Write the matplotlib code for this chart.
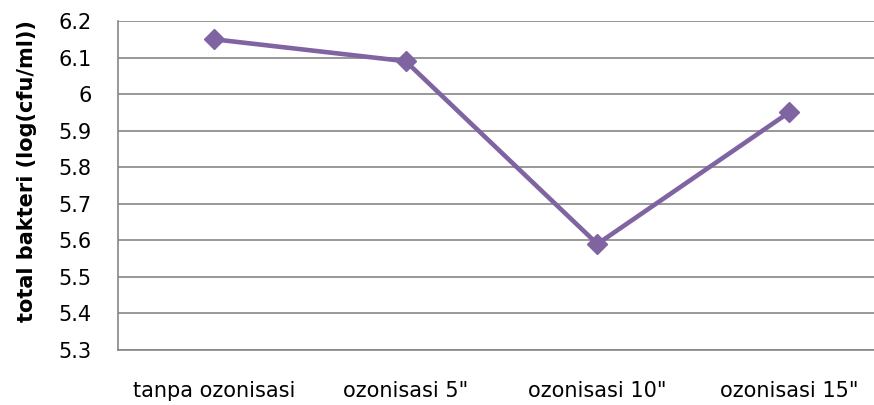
import matplotlib.pyplot as plt
import numpy as np

categories = ['tanpa ozonisasi', 'ozonisasi 5"', 'ozonisasi 10"', 'ozonisasi 15"']
total_bakteri = [6.15, 6.09, 5.59, 5.95]
yticks = [5.3, 5.4, 5.5, 5.6, 5.7, 5.8, 5.9, 6.0, 6.1, 6.2]
ytick_labels = ['5.3', '5.4', '5.5', '5.6', '5.7', '5.8', '5.9', '6', '6.1', '6.2']

plt.rcParams['font.family'] = ['DejaVu Sans']

fig = plt.figure(figsize=(8.74, 4.05), dpi=100)
# plot area runs slightly past the right edge, as in the original
ax = fig.add_axes([118/874, 1 - 350/405, 767/874, 329/405])

xpos = np.arange(len(categories))
ax.plot(xpos, total_bakteri, color='#8064A2', linewidth=3.3, marker='D',
        markersize=10, zorder=3, clip_on=False)

ax.set_xlim(-0.5, len(categories) - 0.5)
ax.set_ylim(5.3, 6.2)
ax.set_yticks(yticks)
ax.set_yticklabels(ytick_labels)
ax.set_xticks(xpos)
ax.set_xticklabels(categories)

ax.grid(axis='y', color='#868686', linewidth=1.2)
ax.set_axisbelow(True)
for s in ['top', 'right']:
    ax.spines[s].set_visible(False)
ax.spines['left'].set_color('#868686')
ax.spines['bottom'].set_color('#868686')
ax.spines['left'].set_linewidth(1.2)
ax.spines['bottom'].set_linewidth(1.2)

ax.tick_params(axis='y', length=0, pad=19, labelsize=15, colors='#000000')
ax.tick_params(axis='x', length=0, pad=22, labelsize=15)

ax.set_ylabel('total bakteri (log(cfu/ml))', fontsize=15, fontweight='bold')
ax.yaxis.set_label_coords(-0.106, 0.545)

plt.savefig('out.png', dpi=100)
